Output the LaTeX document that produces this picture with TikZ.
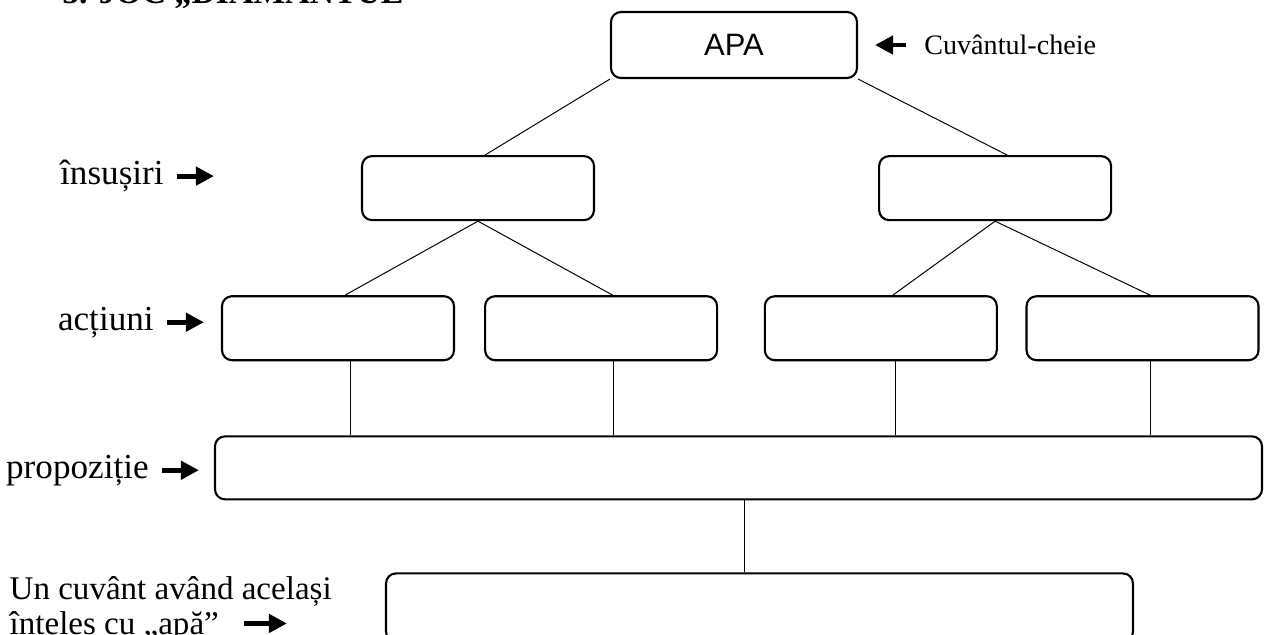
\documentclass[tikz,border=0pt]{standalone}
\usepackage{fontspec}
\setmainfont{Liberation Serif}
\setsansfont{Liberation Sans}
\usetikzlibrary{arrows.meta, positioning}

\begin{document}
\begin{tikzpicture}[
    font=\fontsize{25}{30}\selectfont,
    box/.style={
      draw,
      rounded corners=2.5mm,
      line width=1.5pt,
      minimum width=58mm,
      minimum height=16mm,
      inner sep=0pt
    },
    keybox/.style={
      box,
      minimum width=61.5mm,
      minimum height=16.5mm,
      font=\sffamily\fontsize{22}{26}\selectfont
    },
    lbl/.style={
      inner sep=0pt
    },
    link/.style={
      line width=0.7pt
    },
    pointer/.style={
      -{Triangle[length=4.5mm, width=4.5mm]},
      line width=3.5pt
    }
  ]

    \useasboundingbox (0,0) rectangle (316mm,-158.75mm);
    \clip (0,0) rectangle (316mm,-158.75mm);

    % Title, cut by the top edge of the page
    \node[lbl, anchor=base west, font=\bfseries\fontsize{24}{28}\selectfont] (title) at (15.5mm,-0.9mm) {5. JOC „DIAMANTUL”};

    % Key word
    \node[keybox] (apa) at (183.5mm,-11.25mm) {APA};

    % Qualities
    \node[box, below=19mm of apa, xshift=-64mm] (insl) {};
    \node[box, right=70.75mm of insl] (insr) {};

    % Actions
    \node[box, below=18.5mm of insl, xshift=-35mm] (act1) {};
    \node[box, right=7.25mm of act1] (act2) {};
    \node[box, right=11.4mm of act2] (act3) {};
    \node[box, right=6.9mm of act3] (act4) {};

    % Sentence and synonym
    \node[box, minimum width=261.75mm, minimum height=15.75mm,
      below=18.5mm of act1.south west, anchor=north west, xshift=-1.75mm] (prop) {};
    \node[box, minimum width=186.75mm, minimum height=17mm,
      below=18mm of prop, xshift=5.25mm] (syn) {};

    % Tree lines
    \draw[link] (apa.south west) -- ([xshift=1.75mm]insl.north);
    \draw[link] (apa.south east) -- ([xshift=3mm]insr.north);
    \draw[link] (insl.south) -- ([xshift=1.75mm]act1.north);
    \draw[link] (insl.south) -- ([xshift=2.9mm]act2.north);
    \draw[link] (insr.south) -- ([xshift=3mm]act3.north);
    \draw[link] (insr.south) -- ([xshift=1.9mm]act4.north);
    \foreach \b/\s in {act1/3mm, act2/3.1mm, act3/3.75mm, act4/2.1mm}
      \draw[link] ([xshift=\s]\b.south) -- ([xshift=\s]\b.south |- prop.north);
    \draw[link] ([xshift=1.6mm]prop.south) -- ([xshift=1.6mm]prop.south |- syn.north);

    % Row labels
    \coordinate[left=36.75mm of insl.west, yshift=3mm] (instip);
    \node[lbl, left=12.5mm of instip] (inslbl) {însușiri};
    \draw[pointer] ([xshift=3.25mm]inslbl.east) -- (instip);

    \coordinate[left=4.25mm of act1.west, yshift=1.5mm] (acttip);
    \node[lbl, left=12.5mm of acttip] (actlbl) {acțiuni};
    \draw[pointer] ([xshift=3.25mm]actlbl.east) -- (acttip);

    \coordinate[left=3.75mm of prop.west, yshift=-0.6mm] (proptip);
    \node[lbl, left=12.5mm of proptip] (proplbl) {propoziție};
    \draw[pointer] ([xshift=3.25mm]proplbl.east) -- (proptip);

    \node[lbl, align=left, font=\fontsize{23.5}{25}\selectfont,
      left=13.25mm of syn.west, yshift=-0.4mm] (synlbl) {Un cuvânt având același\\înteles cu „apă”};
    \coordinate[left=24.5mm of syn.west, yshift=-4mm] (syntip);
    \draw[pointer] ([xshift=-10.75mm]syntip) -- (syntip);

    % Key word label
    \coordinate[right=4.25mm of apa.east] (keytip);
    \node[lbl, right=12.25mm of keytip, font=\fontsize{20}{24}\selectfont] (keylbl) {Cuvântul-cheie};
    \draw[pointer] ([xshift=-4.5mm]keylbl.west) -- (keytip);

  \end{tikzpicture}
\end{document}
